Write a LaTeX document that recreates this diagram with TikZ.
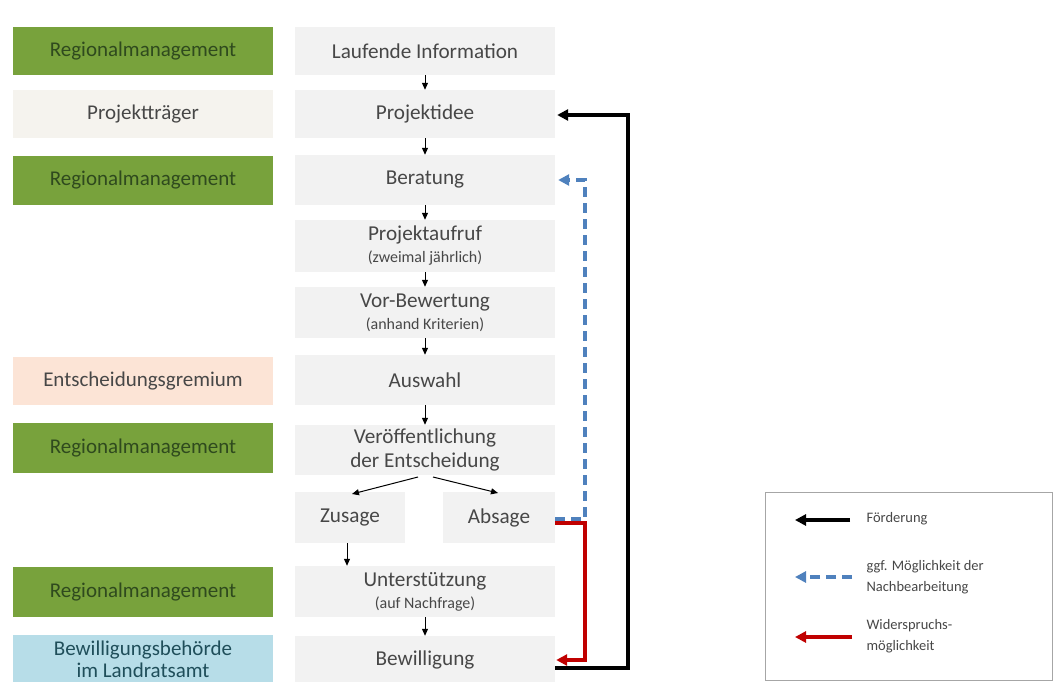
\documentclass[tikz,border=0pt]{standalone}
\usepackage{fontspec}
\setmainfont{Carlito}
\usetikzlibrary{arrows.meta,calc}
\definecolor{rmgreen}{HTML}{78A23C}
\definecolor{rmtext}{HTML}{2F4A1E}
\definecolor{grayfill}{HTML}{F2F2F2}
\definecolor{ptfill}{HTML}{F5F3EE}
\definecolor{egfill}{HTML}{FCE4D6}
\definecolor{bbfill}{HTML}{B7DDE8}
\definecolor{bbtext}{HTML}{1F4E5A}
\definecolor{txt}{HTML}{474747}
\definecolor{blueline}{HTML}{4F81BD}
\definecolor{redline}{HTML}{C00000}
\newcommand{\bigf}{\fontsize{21.2}{24}\selectfont}
\newcommand{\smallf}{\fontsize{16}{18}\selectfont}
\begin{document}
\begin{tikzpicture}[x=1pt,y=-1pt,
  box/.style={fill=grayfill,draw=none,inner sep=0pt,text=txt,font=\bigf,align=center},
  rolebox/.style={draw=none,inner sep=0pt,font=\fontsize{21}{24}\selectfont,align=center},
  flow/.style={-{Triangle[length=7pt,width=6pt]},black,line width=1pt},
  loopblack/.style={-{Triangle[length=11pt,width=11pt]},black,line width=3.6pt},
  loopblue/.style={-{Triangle[length=11pt,width=11pt]},blueline,line width=3.6pt,dash pattern=on 10pt off 6pt},
  loopred/.style={-{Triangle[length=11pt,width=11pt]},redline,line width=3.6pt},
  legtext/.style={font=\fontsize{14.5}{21}\selectfont,text=txt,align=left,anchor=west}]
\useasboundingbox (0,0) rectangle (1054,682);
% role boxes
\node[rolebox,fill=rmgreen,text=rmtext,minimum width=260pt,minimum height=48pt] (r1) at (143,51) {Regionalmanagement};
\node[rolebox,fill=ptfill,text=txt,minimum width=260pt,minimum height=48pt] (r2) at (143,114) {Projektträger};
\node[rolebox,fill=rmgreen,text=rmtext,minimum width=260pt,minimum height=49pt] (r3) at (143,180.5) {Regionalmanagement};
\node[rolebox,fill=egfill,text=txt,minimum width=260pt,minimum height=48pt] (r4) at (143,381) {Entscheidungsgremium};
\node[rolebox,fill=rmgreen,text=rmtext,minimum width=260pt,minimum height=50pt] (r5) at (143,448) {Regionalmanagement};
\node[rolebox,fill=rmgreen,text=rmtext,minimum width=260pt,minimum height=50pt] (r6) at (143,592) {Regionalmanagement};
\node[rolebox,fill=bbfill,text=bbtext,minimum width=260pt,minimum height=48pt,font=\fontsize{21}{22}\selectfont] (r7) at (143,659) {Bewilligungsbehörde\\im Landratsamt};
% flow boxes
\node[box,minimum width=260pt,minimum height=48pt] (a) at (425,51) {Laufende Information};
\node[box,minimum width=260pt,minimum height=48pt] (b) at (425,114) {Projektidee};
\node[box,minimum width=260pt,minimum height=50pt] (c) at (425,180) {Beratung};
\node[box,minimum width=260pt,minimum height=52pt] (d) at (425,246) {Projektaufruf\\[-2pt]{\smallf (zweimal jährlich)}};
\node[box,minimum width=260pt,minimum height=51pt] (e) at (425,312.5) {Vor-Bewertung\\[-2pt]{\smallf (anhand Kriterien)}};
\node[box,minimum width=260pt,minimum height=50pt] (f) at (425,380) {Auswahl};
\node[box,minimum width=260pt,minimum height=50pt] (g) at (425,450) {Veröffentlichung\\der Entscheidung};
\node[box,minimum width=110pt,minimum height=51pt] (h) at (350,517.5) {Zusage};
\node[box,minimum width=112pt,minimum height=51pt] (i) at (499,517.5) {Absage};
\node[box,minimum width=260pt,minimum height=51pt] (j) at (425,591.5) {Unterstützung\\[-2pt]{\smallf (auf Nachfrage)}};
\node[box,minimum width=260pt,minimum height=48pt] (k) at (425,660) {Bewilligung};
% flow arrows
\draw[flow] (a.south) -- (b.north);
\draw[flow] (b.south) -- (c.north);
\draw[flow] (c.south) -- (d.north);
\draw[flow] (d.south) -- (e.north);
\draw[flow] (e.south) -- (f.north);
\draw[flow] (f.south) -- (g.north);
\coordinate (gs1) at (418,477); \coordinate (hn) at (352,494);
\coordinate (gs2) at (433,477); \coordinate (in) at (498,493);
\draw[flow] (gs1) -- (hn);
\draw[flow] (gs2) -- (in);
\draw[flow] ([xshift=-3pt]h.south) -- ([xshift=-3pt]h.south |- j.north);
\draw[flow] (j.south) -- (k.north);
% loops
\coordinate (bk1) at (628,668);
\coordinate (bk2) at (628,115);
\draw[loopblack] (k.east |- bk1) -- (bk1) -- (bk2) -- ([xshift=2pt]b.east |- bk2);
\coordinate (bl1) at (585,519);
\coordinate (bl2) at (585,180);
\draw[loopblue] (i.east |- bl1) -- (bl1) -- (bl2) -- ([xshift=3pt]c.east |- bl2);
\coordinate (rd1) at (585,523);
\coordinate (rd2) at (585,660);
\draw[loopred] (i.east |- rd1) -- (rd1) -- (rd2) -- ([xshift=1pt]k.east |- rd2);
% legend
\node[draw=gray!70,line width=0.6pt,minimum width=287pt,minimum height=188pt,inner sep=0pt] (leg) at (908.5,586) {};
\coordinate (l1a) at (850,520); \coordinate (l1b) at (795,520);
\draw[loopblack] (l1a) -- (l1b);
\node[legtext] (t1) at (863,519) {Förderung};
\coordinate (l2a) at (852,577); \coordinate (l2b) at (795,577);
\draw[loopblue] (l2a) -- (l2b);
\node[legtext] (t2) at (863,577) {ggf. Möglichkeit der\\Nachbearbeitung};
\coordinate (l3a) at (852,637); \coordinate (l3b) at (795,637);
\draw[loopred] (l3a) -- (l3b);
\node[legtext] (t3) at (863,636) {Widerspruchs-\\möglichkeit};
\end{tikzpicture}
\end{document}
